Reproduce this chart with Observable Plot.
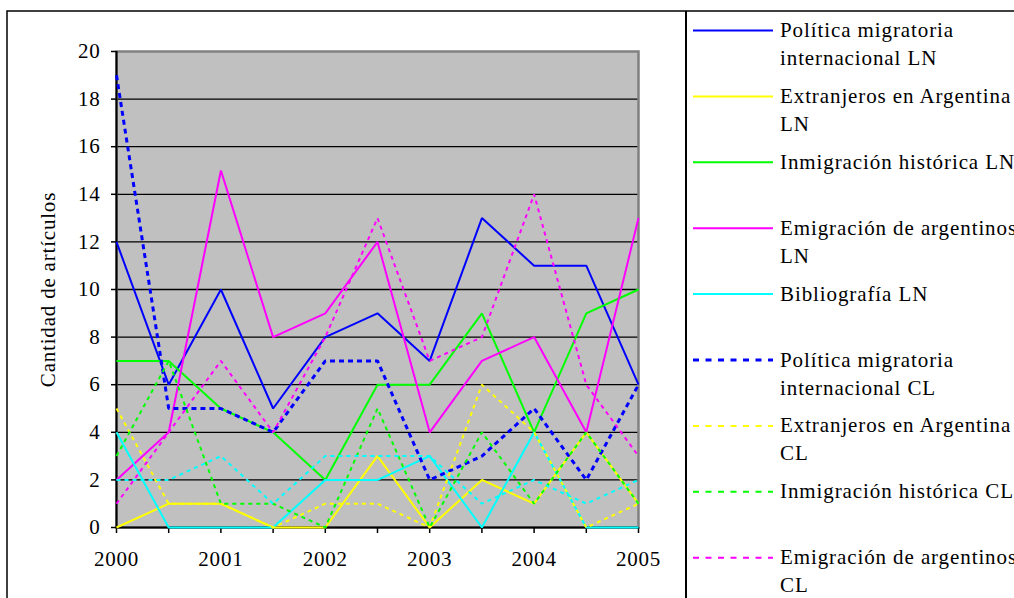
<!DOCTYPE html>
<html>
<head>
<meta charset="utf-8">
<script src="https://cdn.jsdelivr.net/npm/d3@7"></script>
<script src="https://cdn.jsdelivr.net/npm/@observablehq/plot@0.6"></script>
<style>
  html, body { margin: 0; padding: 0; background: #fff; width: 1014px; height: 598px; overflow: hidden; }
  #wrap { position: relative; width: 1014px; height: 598px; font-family: "Liberation Serif", serif; }
  #wrap > * { position: absolute; left: 0; top: 0; }
  #wrap svg text { font-family: "Liberation Serif", serif !important; }
</style>
</head>
<body>
<div id="wrap"></div>
<script>
// ---- data ----
const periods = [2000, 2000.5, 2001, 2001.5, 2002, 2002.5, 2003, 2003.5, 2004, 2004.5, 2005];
const yearTicks = [2000, 2001, 2002, 2003, 2004, 2005];
const yTicks = [0, 2, 4, 6, 8, 10, 12, 14, 16, 18, 20];
const yLabel = "Cantidad de artículos";

const seriesNames = [
  "Política migratoria internacional LN",
  "Extranjeros en Argentina LN",
  "Inmigración histórica LN",
  "Emigración de argentinos LN",
  "Bibliografía LN",
  "Política migratoria internacional CL",
  "Extranjeros en Argentina CL",
  "Inmigración histórica CL",
  "Emigración de argentinos CL",
  "Bibliografía CL"
];
// legend text as it wraps in the original
const legendLines = [
  ["Política migratoria", "internacional LN"],
  ["Extranjeros en Argentina", "LN"],
  ["Inmigración histórica LN"],
  ["Emigración de argentinos", "LN"],
  ["Bibliografía LN"],
  ["Política migratoria", "internacional CL"],
  ["Extranjeros en Argentina", "CL"],
  ["Inmigración histórica CL"],
  ["Emigración de argentinos", "CL"],
  ["Bibliografía CL"]
];
const seriesColors = ["#0000ff", "#ffff00", "#00ff00", "#ff00ff", "#00ffff",
                      "#0000ff", "#ffff00", "#00ff00", "#ff00ff", "#00ffff"];

const politicaLN    = [12, 6, 10, 5, 8, 9, 7, 13, 11, 11, 6];
const extranjerosLN = [0, 1, 1, 0, 0, 3, 0, 2, 1, 4, 1];
const inmigracionLN = [7, 7, 5, 4, 2, 6, 6, 9, 4, 9, 10];
const emigracionLN  = [2, 4, 15, 8, 9, 12, 4, 7, 8, 4, 13];
const bibliografiaLN = [4, 0, 0, 0, 2, 2, 3, 0, 4, 0, 0];
const politicaCL    = [19, 5, 5, 4, 7, 7, 2, 3, 5, 2, 6];
const extranjerosCL = [5, 1, 1, 0, 1, 1, 0, 6, 4, 0, 1];
const inmigracionCL = [3, 7, 1, 1, 0, 5, 0, 4, 1, 4, 1];
const emigracionCL  = [1, 4, 7, 4, 8, 13, 7, 8, 14, 6, 3];
const bibliografiaCL = [2, 2, 3, 1, 3, 3, 3, 1, 2, 1, 2];

const seriesValues = [politicaLN, extranjerosLN, inmigracionLN, emigracionLN, bibliografiaLN,
                      politicaCL, extranjerosCL, inmigracionCL, emigracionCL, bibliografiaCL];

// ---- styles ----
const FONT = "Liberation Serif, serif";
function styleOf(i) {
  const dashed = i >= 5;
  const thick = i === 5;
  return {
    width: thick ? 3 : 2,
    dash: dashed ? (thick ? "5,4" : "4,4") : null,
    legendDash: dashed ? "6,6.5" : null
  };
}

const W = 1014, H = 598;
const marks = [
  Plot.frame({fill: "#c0c0c0"}),
  Plot.ruleY(yTicks.filter(d => d > 0 && d < 20), {stroke: "#000", strokeWidth: 1.3}),
  Plot.frame({stroke: "#808080", strokeWidth: 2.5}),
  Plot.ruleX([2000], {stroke: "#000", strokeWidth: 2}),
  Plot.ruleY([0], {stroke: "#000", strokeWidth: 2}),
  Plot.axisY({ticks: yTicks, tickSize: 5, tickPadding: 11, label: null, tickFormat: d => String(d), stroke: "#000", strokeWidth: 1.5}),
  Plot.axisX({ticks: periods, tickSize: 6, tickFormat: () => "", label: null, stroke: "#000", strokeWidth: 1.5}),
  Plot.axisX({ticks: yearTicks, tickSize: 0, tickPadding: 24, tickFormat: d => String(d), label: null}),
  Plot.text([yLabel], {frameAnchor: "left", dx: -68, rotate: -90, textAnchor: "middle", fill: "#000"})
];
seriesValues.forEach((vals, i) => {
  const s = styleOf(i);
  const rows = periods.map((p, j) => ({x: p, y: vals[j]}));
  marks.push(Plot.line(rows, {
    x: "x", y: "y",
    stroke: seriesColors[i],
    strokeWidth: s.width,
    strokeDasharray: s.dash,
    strokeLinejoin: "miter",
    strokeLinecap: "butt"
  }));
});

const chart = Plot.plot({
  width: W, height: H,
  marginLeft: 116, marginRight: W - 638, marginTop: 51, marginBottom: H - 527,
  x: {domain: [2000, 2005], axis: null},
  y: {domain: [0, 20], axis: null},
  style: {fontFamily: FONT, fontSize: "21px", background: "transparent", color: "#000", letterSpacing: "0.8px", overflow: "visible"},
  marks
});
document.getElementById("wrap").appendChild(chart);

// ---- frame & legend overlay ----
const svg = d3.create("svg").attr("width", W).attr("height", H)
  .style("font-family", FONT).style("font-size", "21px").style("letter-spacing", "0.9px");
svg.append("rect").attr("x", 7).attr("y", 11).attr("width", 1100).attr("height", 700)
  .attr("fill", "none").attr("stroke", "#000").attr("stroke-width", 1.5);
svg.append("line").attr("x1", 686).attr("x2", 686).attr("y1", 11).attr("y2", 700)
  .attr("stroke", "#000").attr("stroke-width", 2);

seriesNames.forEach((name, i) => {
  const s = styleOf(i);
  const cy = 30.5 + i * 65.9;
  svg.append("line").attr("x1", 693).attr("x2", 773).attr("y1", cy).attr("y2", cy)
    .attr("stroke", seriesColors[i]).attr("stroke-width", s.width)
    .attr("stroke-dasharray", s.legendDash);
  const t = svg.append("text").attr("x", 780).attr("y", cy + 6.5).attr("fill", "#000");
  legendLines[i].forEach((ln, k) => {
    t.append("tspan").attr("x", 780).attr("dy", k === 0 ? 0 : 28).text(ln);
  });
  t.append("title").text(name);
});
document.getElementById("wrap").appendChild(svg.node());
</script>
</body>
</html>
